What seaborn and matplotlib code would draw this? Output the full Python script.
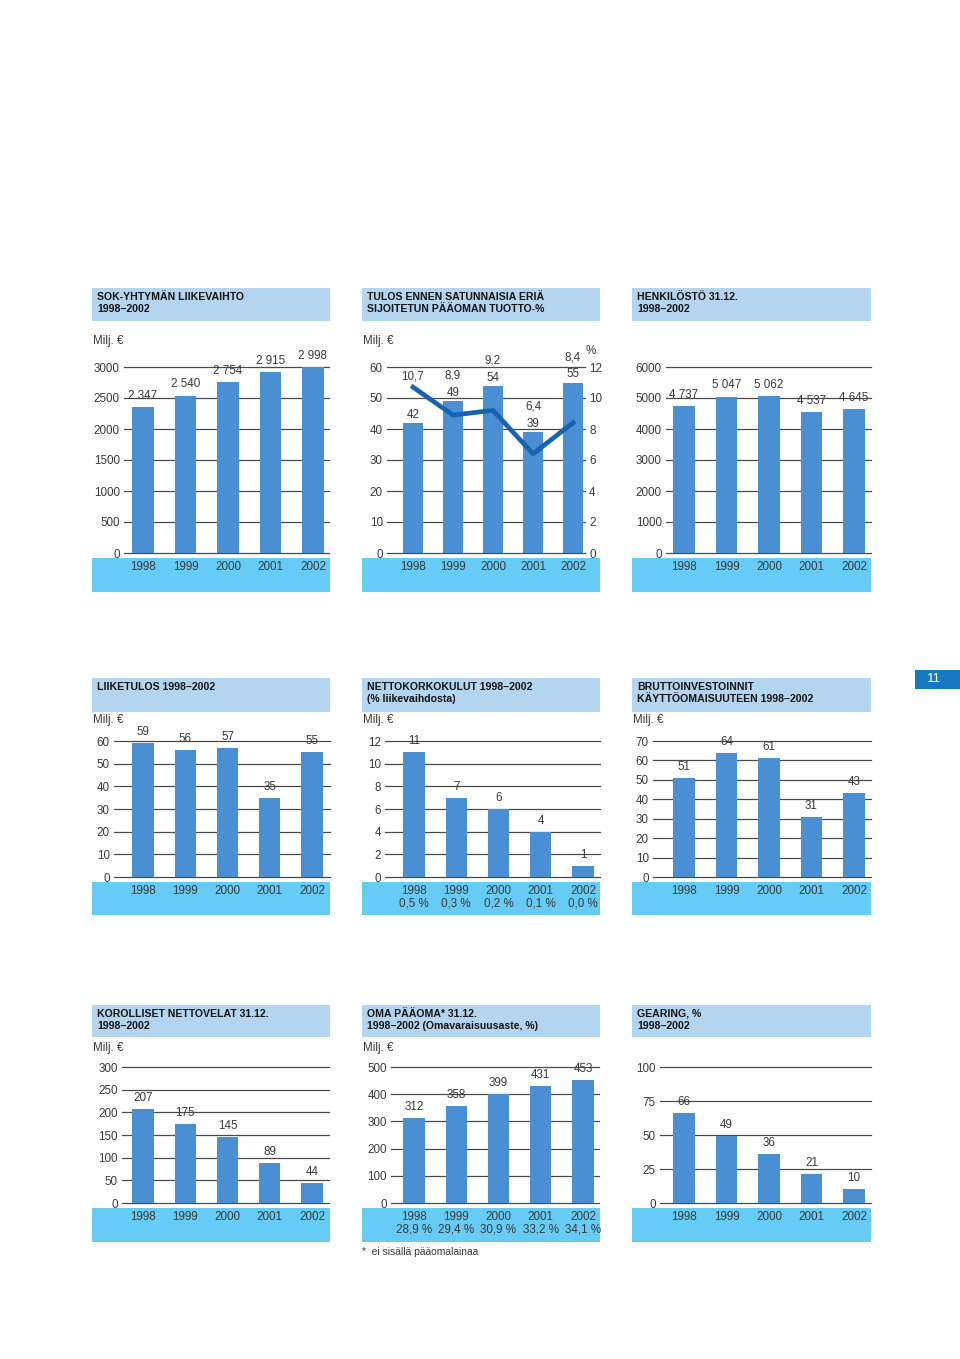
import numpy as np
import matplotlib
matplotlib.use("Agg")
import matplotlib.pyplot as plt
from matplotlib.patches import Rectangle
import seaborn as sns

# ---------------- data ----------------
years = ['1998', '1999', '2000', '2001', '2002']
liikevaihto = [2347, 2540, 2754, 2915, 2998]
tulos = [42, 49, 54, 39, 55]
roce_pct = [10.7, 8.9, 9.2, 6.4, 8.4]
henkilosto = [4737, 5047, 5062, 4537, 4645]
liiketulos = [59, 56, 57, 35, 55]
nettokorko = [11, 7, 6, 4, 1]
nettokorko_pct = ['0,5 %', '0,3 %', '0,2 %', '0,1 %', '0,0 %']
brutto = [51, 64, 61, 31, 43]
velat = [207, 175, 145, 89, 44]
oma_paaoma = [312, 358, 399, 431, 453]
omavaraisuus = ['28,9 %', '29,4 %', '30,9 %', '33,2 %', '34,1 %']
gearing = [66, 49, 36, 21, 10]

titles = [
    ['SOK-YHTYMÄN LIIKEVAIHTO', '1998–2002'],
    ['TULOS ENNEN SATUNNAISIA ERIÄ', 'SIJOITETUN PÄÄOMAN TUOTTO-%'],
    ['HENKILÖSTÖ 31.12.', '1998–2002'],
    ['LIIKETULOS 1998–2002'],
    ['NETTOKORKOKULUT 1998–2002', '(% liikevaihdosta)'],
    ['BRUTTOINVESTOINNIT', 'KÄYTTÖOMAISUUTEEN 1998–2002'],
    ['KOROLLISET NETTOVELAT 31.12.', '1998–2002'],
    ['OMA PÄÄOMA* 31.12.', '1998–2002 (Omavaraisuusaste, %)'],
    ['GEARING, %', '1998–2002'],
]
unit_label = 'Milj. €'
footnote = '*  ei sisällä pääomalainaa'
page_number = '11'

# ---------------- style ----------------
plt.rcParams['font.family'] = ['Liberation Sans', 'DejaVu Sans']
TXT = '#3a3a3a'
plt.rcParams['text.color'] = TXT
plt.rcParams['xtick.color'] = TXT
plt.rcParams['ytick.color'] = TXT
FS = 8.4
BAR = '#4a8fd1'
TITLE_BG = '#b4d5ef'
BAND = '#66ccf5'
LINE = '#1763b3'
GRID = '#4a4a4a'
PAGE = '#1778c2'

W, H = 960, 1359
fig = plt.figure(figsize=(W / 100, H / 100), dpi=100)
fig.patch.set_facecolor('white')


def frect(x0, y0, x1, y1):
    return [x0 / W, 1 - y1 / H, (x1 - x0) / W, (y1 - y0) / H]


def box(x0, y0, x1, y1, color):
    fig.add_artist(Rectangle((x0 / W, 1 - y1 / H), (x1 - x0) / W, (y1 - y0) / H,
                             transform=fig.transFigure, facecolor=color,
                             edgecolor='none', zorder=-1))


def ftext(x, y, s, **kw):
    fig.text(x / W, 1 - y / H, s, **kw)


cols = [(92, 330), (362, 600), (632, 871)]
rows = [
    dict(title=(288, 321), axis=(367, 553), band=(558, 592), unit=341),
    dict(title=(678, 712), axis=(741, 877), band=(882, 915), unit=720),
    dict(title=(1005, 1037), axis=(1067, 1203), band=(1208, 1242), unit=1048),
]


def fmt_int(v):
    return f'{v:,}'.replace(',', ' ')


def panel(idx, values, ytop, ystep, ax_x0, ax_x1, first, last,
          xlabels=None, unit=True):
    r, c = divmod(idx, 3)
    row = rows[r]
    cx0, cx1 = cols[c]
    t0, t1 = row['title']
    box(cx0, t0, cx1, t1, TITLE_BG)
    for k, line in enumerate(titles[idx]):
        ftext(cx0 + 5, t0 + 9 + 12 * k, line, fontsize=7.6, fontweight='bold',
              color='#141414', va='center', ha='left')
    b0, b1 = row['band']
    box(cx0, b0, cx1, b1, BAND)
    if unit:
        ftext(cx0 + 1, row['unit'], unit_label, fontsize=FS, va='center', ha='left')

    a0, a1 = row['axis']
    ax = fig.add_axes(frect(ax_x0, a0, ax_x1, a1))
    ax.patch.set_alpha(0)
    sns.barplot(x=years, y=values, color=BAR, saturation=1, width=0.5,
                linewidth=0, ax=ax, zorder=2)
    ticks = np.arange(0, ytop + ystep / 2, ystep)
    for t in ticks:
        ax.axhline(t, color=GRID, lw=0.9, zorder=0.5, clip_on=False)
    ax.set_ylim(0, ytop)
    ax.set_yticks(ticks)
    ax.set_yticklabels([str(int(t)) for t in ticks], fontsize=FS)
    spacing = (last - first) / 4
    ax.set_xlim(-(first - ax_x0) / spacing, 4 + (ax_x1 - last) / spacing)
    ax.set_xticks(range(len(years)))
    ax.set_xticklabels(xlabels if xlabels is not None else years,
                       fontsize=FS, linespacing=1.0)
    ax.tick_params(axis='x', length=0, pad=6)
    ax.tick_params(axis='y', length=0, pad=3)
    for s in ax.spines.values():
        s.set_visible(False)
    ax.set_xlabel('')
    ax.set_ylabel('')
    return ax


def bar_labels(ax, values, texts):
    for i, (v, s) in enumerate(zip(values, texts)):
        ax.annotate(s, (i, v), xytext=(0, 8), textcoords='offset points',
                    ha='center', va='center', fontsize=FS, color=TXT)


# 1 Liikevaihto
ax = panel(0, liikevaihto, 3000, 500, 124, 329, 143, 313)
bar_labels(ax, liikevaihto, [fmt_int(v) for v in liikevaihto])

# 2 Tulos + ROCE
ax = panel(1, tulos, 60, 10, 387, 585, 413, 573)
ax2 = ax.twinx()
ax2.patch.set_alpha(0)
sns.lineplot(x=np.arange(len(years)), y=roce_pct, ax=ax2, color=LINE,
             linewidth=3.4, zorder=3)
ax2.set_ylim(0, 12)
rt = np.arange(0, 13, 2)
ax2.set_yticks(rt)
ax2.set_yticklabels([str(int(t)) for t in rt], fontsize=FS)
ax2.tick_params(axis='y', length=0, pad=3)
for s in ax2.spines.values():
    s.set_visible(False)
ax2.set_ylabel('')
ax.set_xlim(-(413 - 387) / 40, 4 + (585 - 573) / 40)
for i, (v, p) in enumerate(zip(tulos, roce_pct)):
    ax.text(i, v + 2.6, str(v), ha='center', va='center', fontsize=FS, zorder=4)
    ax.text(i, max(v + 8.2, p * 5 + 3.4), f'{p:.1f}'.replace('.', ','),
            ha='center', va='center', fontsize=FS, zorder=4)
ftext(591, 351, '%', fontsize=FS, ha='center', va='center')

# 3 Henkilöstö
ax = panel(2, henkilosto, 6000, 1000, 666, 871, 684, 854, unit=False)
bar_labels(ax, henkilosto, [fmt_int(v) for v in henkilosto])

# 4 Liiketulos
ax = panel(3, liiketulos, 60, 10, 114, 330, 143, 312)
bar_labels(ax, liiketulos, [str(v) for v in liiketulos])

# 5 Nettokorkokulut
ax = panel(4, nettokorko, 12, 2, 385, 600, 414, 583,
           xlabels=[f'{y}\n{p}' for y, p in zip(years, nettokorko_pct)])
bar_labels(ax, nettokorko, [str(v) for v in nettokorko])

# 6 Bruttoinvestoinnit
ax = panel(5, brutto, 70, 10, 653, 871, 684, 854)
bar_labels(ax, brutto, [str(v) for v in brutto])

# 7 Korolliset nettovelat
ax = panel(6, velat, 300, 50, 122, 329, 143, 312)
bar_labels(ax, velat, [str(v) for v in velat])

# 8 Oma pääoma
ax = panel(7, oma_paaoma, 500, 100, 391, 599, 414, 583,
           xlabels=[f'{y}\n{p}' for y, p in zip(years, omavaraisuus)])
bar_labels(ax, oma_paaoma, [str(v) for v in oma_paaoma])
ftext(362, 1252, footnote, fontsize=7.4, ha='left', va='center')

# 9 Gearing
ax = panel(8, gearing, 100, 25, 660, 871, 684, 854, unit=False)
bar_labels(ax, gearing, [str(v) for v in gearing])

# page number
box(915, 670, 960, 689, PAGE)
ftext(934, 679.5, page_number, fontsize=9.5, color='white', ha='center', va='center')

fig.savefig('out.png', dpi=100, facecolor='white')
